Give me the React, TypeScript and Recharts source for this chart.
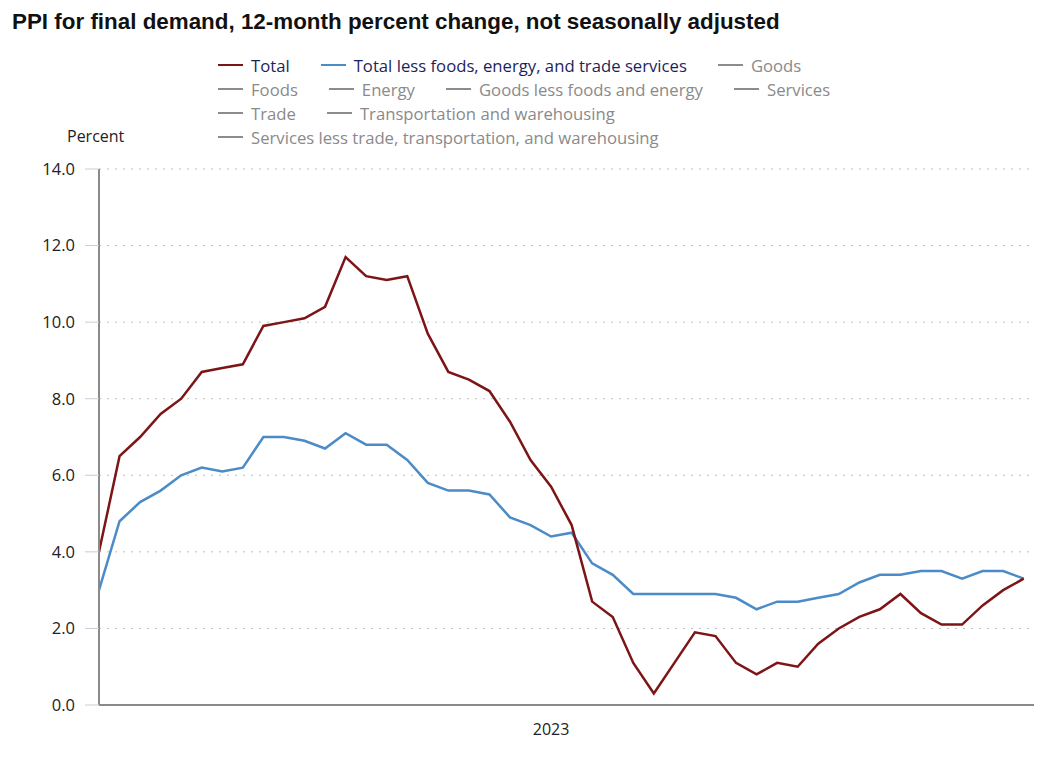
import React from 'react';
import { LineChart, Line, XAxis, YAxis, CartesianGrid } from 'recharts';

// Mar 2021 .. Dec 2024, monthly
const monthIndex = Array.from({ length: 46 }, (_, i) => i);

const totalValues = [
  4.0, 6.5, 7.0, 7.6, 8.0, 8.7, 8.8, 8.9, 9.9, 10.0, 10.1, 10.4,
  11.7, 11.2, 11.1, 11.2, 9.7, 8.7, 8.5, 8.2, 7.4, 6.4, 5.7, 4.7,
  2.7, 2.3, 1.1, 0.3, 1.1, 1.9, 1.8, 1.1, 0.8, 1.1, 1.0, 1.6,
  2.0, 2.3, 2.5, 2.9, 2.4, 2.1, 2.1, 2.6, 3.0, 3.3,
];

const coreValues = [
  3.0, 4.8, 5.3, 5.6, 6.0, 6.2, 6.1, 6.2, 7.0, 7.0, 6.9, 6.7,
  7.1, 6.8, 6.8, 6.4, 5.8, 5.6, 5.6, 5.5, 4.9, 4.7, 4.4, 4.5,
  3.7, 3.4, 2.9, 2.9, 2.9, 2.9, 2.9, 2.8, 2.5, 2.7, 2.7, 2.8,
  2.9, 3.2, 3.4, 3.4, 3.5, 3.5, 3.3, 3.5, 3.5, 3.3,
];

const yTicks = [0, 2, 4, 6, 8, 10, 12, 14];
const xTicks = [22];
const xTickLabels: Record<number, string> = { 22: '2023' };

const legendItems = [
  { name: 'Total', color: '#7d1416', active: true },
  { name: 'Total less foods, energy, and trade services', color: '#4b8bc8', active: true },
  { name: 'Goods', color: '#8c8c8c', active: false },
  { name: 'Foods', color: '#8c8c8c', active: false },
  { name: 'Energy', color: '#8c8c8c', active: false },
  { name: 'Goods less foods and energy', color: '#8c8c8c', active: false },
  { name: 'Services', color: '#8c8c8c', active: false },
  { name: 'Trade', color: '#8c8c8c', active: false },
  { name: 'Transportation and warehousing', color: '#8c8c8c', active: false },
  { name: 'Services less trade, transportation, and warehousing', color: '#8c8c8c', active: false },
];

const chartData = monthIndex.map((m, i) => ({
  m,
  total: totalValues[i],
  core: coreValues[i],
}));

const FONT = '"Open Sans", Lato, sans-serif';

export default function App() {
  return (
    <div style={{ position: 'absolute', left: 0, top: 0, width: 1056, height: 772, background: '#fff', fontFamily: FONT }}>
      <div
        style={{
          position: 'absolute', left: 12, top: 9,
          fontFamily: '"Liberation Sans", Arial, sans-serif',
          fontWeight: 700, fontSize: 22.4, color: '#111', whiteSpace: 'nowrap',
        }}
      >
        PPI for final demand, 12-month percent change, not seasonally adjusted
      </div>

      {/* legend */}
      <div
        style={{
          position: 'absolute', left: 218, top: 53, width: 640,
          display: 'flex', flexWrap: 'wrap', columnGap: 31, rowGap: 0,
        }}
      >
        {legendItems.map((it) => (
          <div key={it.name} style={{ display: 'flex', alignItems: 'center', height: 24, whiteSpace: 'nowrap' }}>
            <span style={{ display: 'inline-block', width: 25, height: 2, background: it.color, marginRight: 8 }} />
            <span style={{ fontSize: 16.7, color: it.active ? '#1d1f5c' : '#8a8a8a' }}>{it.name}</span>
          </div>
        ))}
      </div>

      <div style={{ position: 'absolute', left: 67, top: 125, fontSize: 16, color: '#222' }}>Percent</div>

      <LineChart
        width={1056}
        height={772}
        data={chartData}
        margin={{ top: 169, right: 22, bottom: 0, left: 0 }}
      >
        <CartesianGrid vertical={false} stroke="#bdbdbd" strokeDasharray="2 6" />
        <XAxis
          dataKey="m"
          type="number"
          domain={[0, 45.5]}
          ticks={xTicks}
          tickFormatter={(v: number) => xTickLabels[v] ?? ''}
          tickLine={false}
          tickSize={0}
          tickMargin={19}
          height={67}
          axisLine={{ stroke: '#8a8a8a', strokeWidth: 2 }}
          tick={{ fill: '#222', fontSize: 16, fontFamily: FONT }}
        />
        <YAxis
          domain={[0, 14]}
          ticks={yTicks}
          width={99}
          tickSize={14}
          tickMargin={10}
          tickFormatter={(v: number) => v.toFixed(1)}
          tickLine={{ stroke: '#c8ccd6' }}
          axisLine={{ stroke: '#8a8a8a', strokeWidth: 2 }}
          tick={{ fill: '#222', fontSize: 16.5, fontFamily: FONT }}
        />
        <Line
          type="linear"
          dataKey="core"
          stroke="#4b8bc8"
          strokeWidth={2.5}
          dot={false}
          isAnimationActive={false}
        />
        <Line
          type="linear"
          dataKey="total"
          stroke="#7d1416"
          strokeWidth={2.5}
          dot={false}
          isAnimationActive={false}
        />
      </LineChart>
    </div>
  );
}
